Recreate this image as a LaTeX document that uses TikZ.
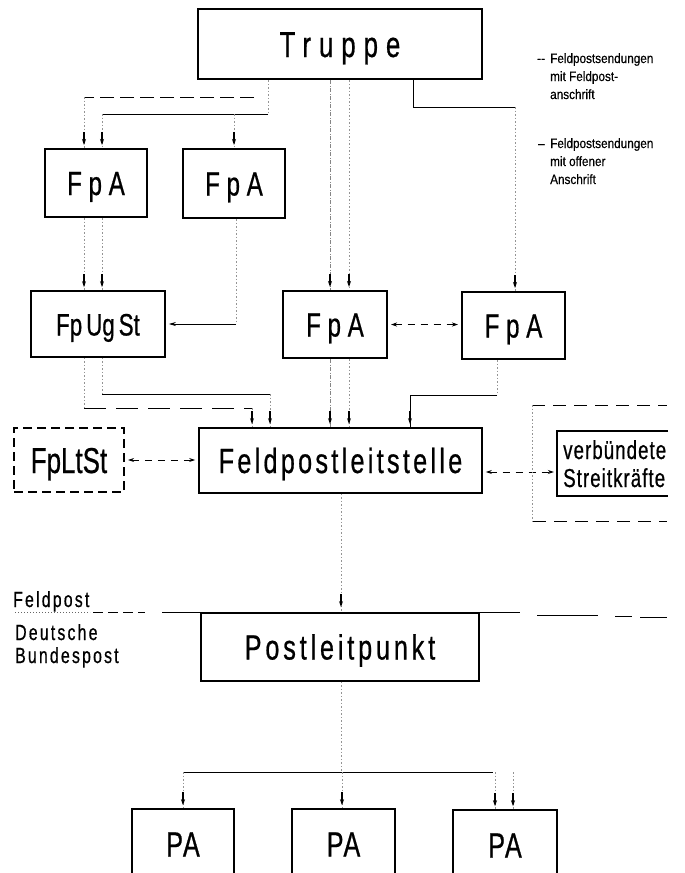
\documentclass[tikz,border=0pt]{standalone}
\usepackage{fontspec}
\setmainfont{Liberation Sans}
\newfontfamily\din{Liberation Sans}[FakeStretch=0.72,FakeBold=0.6]
\newfontfamily\legf{Liberation Sans}[FakeStretch=0.87,FakeBold=0.4]
\usetikzlibrary{arrows.meta,calc}
\newcommand\dinfont[2]{\din\fontsize{#1}{#1}\selectfont\addfontfeature{LetterSpace=#2}}
\newcommand\arrtick[2]{\draw[tick] ($(#1,0 |- #2)+(0,-16)$) -- ($(#1,0 |- #2)+(0,-3)$);}
\tikzset{
  box/.style={draw, rectangle, line width=2pt, inner sep=0pt, text depth=0pt},
  faint/.style={line width=0.45pt, black!42, dash pattern=on 1.5pt off 2pt},
  faintd/.style={line width=0.45pt, black!48, dash pattern=on 4pt off 1.5pt on 1pt off 1.5pt},
  sol/.style={line width=0.7pt},
  dshA/.style={line width=0.8pt, dash pattern=on 14pt off 6pt},
  dshB/.style={line width=0.8pt, dash pattern=on 22pt off 10pt},
  dshC/.style={line width=0.8pt, dash pattern=on 13pt off 8pt},
  tick/.style={line width=1.1pt, -{Stealth[length=6pt,width=4pt]}},
  harr/.style={line width=0.7pt, dash pattern=on 7pt off 6pt, {Stealth[length=6pt,width=4pt]}-{Stealth[length=6pt,width=4pt]}, shorten <=3pt, shorten >=3pt},
  lbl/.style={anchor=base west, inner sep=0pt, font=\dinfont{22}{10}},
  leg/.style={anchor=base west, inner sep=0pt, font=\legf\fontsize{13.5}{14}\selectfont},
  sepl/.style={line width=0.8pt}
}
\begin{document}
\begin{tikzpicture}[x=1pt,y=-1pt]
\useasboundingbox (0,0) rectangle (685,873);

% ---------- nodes ----------
\node[box, line width=2.6pt, minimum width=284pt, minimum height=70pt, text height=26pt, font=\dinfont{36}{22}] (truppe) at (340,44) {Truppe};
\node[box, minimum width=102pt, minimum height=68pt, text height=24pt, font=\dinfont{33.5}{20}] (fpa1) at (96,183) {FpA};
\node[box, minimum width=102pt, minimum height=69pt, text height=24pt, font=\dinfont{33.5}{20}] (fpa2) at (234,183.5) {FpA};
\node[box, line width=1.8pt, minimum width=134pt, minimum height=66pt, text height=23pt, font=\dinfont{31}{0}] (fpugst) at (98,324) {Fp\kern4pt Ug\kern4pt St};
\node[box, minimum width=104pt, minimum height=67pt, text height=24pt, font=\dinfont{33.5}{20}] (fpac) at (335,324.5) {FpA};
\node[box, minimum width=103pt, minimum height=67pt, text height=24pt, font=\dinfont{33.5}{20}] (fpar) at (513.5,325.5) {FpA};
\node[box, line width=2.2pt, dash pattern=on 9pt off 5pt, minimum width=110pt, minimum height=64pt, text height=26pt, font=\dinfont{36}{0}] (fplst) at (69,460) {FpLtSt};
\node[box, line width=1.8pt, minimum width=283pt, minimum height=65pt, text height=25pt, font=\dinfont{35}{9.4}] (fpls) at (340.5,460.5) {Feldpostleitstelle};
\node[inner sep=0pt, minimum width=111pt, minimum height=65pt] (verb) at (612.5,463.5) {};
\draw[line width=2.2pt] (verb.north east) -- (verb.north west) -- (verb.south west) -- (verb.south east);
\node[anchor=base west, inner sep=0pt, font=\dinfont{26}{4}] (vt1) at (563,459) {verbündete};
\node[anchor=base west, inner sep=0pt, font=\dinfont{26}{4}] (vt2) at (563,487) {Streitkräfte};
\node[box, line width=1.9pt, minimum width=278pt, minimum height=68pt, text height=25pt, font=\dinfont{35}{11}] (plp) at (340,647) {Postleitpunkt};
\node[box, line width=1.5pt, minimum width=102pt, minimum height=70pt, text height=25pt, font=\dinfont{35}{5}] (pa1) at (183,844) {PA};
\node[box, line width=1.5pt, minimum width=103pt, minimum height=70pt, text height=25pt, font=\dinfont{35}{5}] (pa2) at (343.5,844) {PA};
\node[box, line width=1.5pt, minimum width=104pt, minimum height=70pt, text height=25pt, font=\dinfont{35}{5}] (pa3) at (505,845) {PA};

% ---------- labels ----------
\node[lbl] (lfp) at (13,607) {Feldpost};
\node[lbl] (ldt) at (15,640) {Deutsche};
\node[lbl] (lbp) at (15,663) {Bundespost};

\node[leg] (g1d) at (537,63) {-{}-};
\node[leg] (g1a) at (550,63) {Feldpostsendungen};
\node[leg] (g1b) at (550,81) {mit Feldpost-};
\node[leg] (g1c) at (550,99) {anschrift};
\node[leg] (g2d) at (538,148) {–};
\node[leg] (g2a) at (550,148) {Feldpostsendungen};
\node[leg] (g2b) at (550,166) {mit offener};
\node[leg] (g2c) at (550,184) {Anschrift};

% ---------- Truppe -> FpA (left pair) ----------
\draw[faint] (268,0 |- truppe.south) -- (268,114);
\draw[dshA] (254,97) -- (84,97);
\draw[faint] (84,97) -- (84,0 |- fpa1.north);
\draw[sol] (268,114) -- (102,114);
\draw[faint] (102,114) -- (102,0 |- fpa1.north);
\draw[faint] (234,114) -- (234,0 |- fpa2.north);
\arrtick{84}{fpa1.north}
\arrtick{102}{fpa1.north}
\arrtick{234}{fpa2.north}

% ---------- Truppe -> FpA (centre) ----------
\draw[faintd] (330,0 |- truppe.south) -- (330,0 |- fpac.north);
\draw[faint] (349,0 |- truppe.south) -- (349,0 |- fpac.north);
\arrtick{330}{fpac.north}
\arrtick{349}{fpac.north}

% ---------- Truppe -> FpA (right) ----------
\draw[sol] (413,0 |- truppe.south) -- (413,107) -- (515,107);
\draw[faint] (515,107) -- (515,0 |- fpar.north);
\arrtick{515}{fpar.north}

% ---------- FpA -> Fp Ug St ----------
\draw[faint] (84,0 |- fpa1.south) -- (84,0 |- fpugst.north);
\draw[faint] (102,0 |- fpa1.south) -- (102,0 |- fpugst.north);
\arrtick{84}{fpugst.north}
\arrtick{102}{fpugst.north}
\draw[faint] (236,0 |- fpa2.south) -- (236,0 |- fpugst.east);
\draw[sol, -{Stealth[length=7pt,width=4pt]}] (236,0 |- fpugst.east) -- ([xshift=3pt]fpugst.east);

% ---------- FpA <-> FpA ----------
\draw[harr] (fpac.east) -- (fpac.east -| fpar.west);

% ---------- to Feldpostleitstelle ----------
\draw[faint] (84,0 |- fpugst.south) -- (84,408);
\draw[dshB] (84,408) -- (252,408);
\draw[faint] (252,408) -- (252,0 |- fpls.north);
\arrtick{252}{fpls.north}
\draw[faint] (102,0 |- fpugst.south) -- (102,394);
\draw[sol] (102,394) -- (270,394);
\draw[faint] (270,394) -- (270,0 |- fpls.north);
\arrtick{270}{fpls.north}
\draw[faintd] (330,0 |- fpac.south) -- (330,0 |- fpls.north);
\draw[faint] (349,0 |- fpac.south) -- (349,0 |- fpls.north);
\arrtick{330}{fpls.north}
\arrtick{349}{fpls.north}
\draw[faint] (497,0 |- fpar.south) -- (497,395);
\draw[sol] (497,395) -- (410,395) -- (410,0 |- fpls.north);
\arrtick{410}{fpls.north}

% ---------- side links ----------
\draw[harr] (fplst.east) -- (fplst.east -| fpls.west);
\draw[harr] (fpls.east |- 0,472) -- (verb.west |- 0,472);
\draw[dshC] (532,405) -- (667,405);
\draw[dshC] (533,521) -- (667,521);
\draw[faint] (532,405) -- (532,521);

% ---------- Feldpostleitstelle -> Postleitpunkt ----------
\draw[faint] (341,0 |- fpls.south) -- (341,0 |- plp.north);
\draw[tick] ($(341,0 |- plp.north)+(0,-18)$) -- ($(341,0 |- plp.north)+(0,-5)$);

% ---------- separator Feldpost / Deutsche Bundespost ----------
\draw[line width=0.6pt, black!60, dash pattern=on 1pt off 2pt] (15,612) -- (90,612);
\draw[sepl, dash pattern=on 10pt off 5pt] (93,612) -- (145,612);
\draw[sepl] (162,0 |- plp.north west) -- (plp.north west);
\draw[sepl] (plp.north east) -- (520,0 |- plp.north east);
\draw[sepl] (537,615) -- (598,615);
\draw[sepl] (615,616) -- (632,616);
\draw[sepl] (640,617) -- (667,617);

% ---------- Postleitpunkt -> PA ----------
\draw[faint] (341,0 |- plp.south) -- (341,772);
\draw[sol] (184,772) -- (493,772);
\draw[faint] (183,772) -- (183,0 |- pa1.north);
\draw[faint] (342,772) -- (342,0 |- pa2.north);
\draw[faint] (495,772) -- (495,0 |- pa3.north);
\draw[faint] (513,772) -- (513,0 |- pa3.north);
\arrtick{183}{pa1.north}
\arrtick{342}{pa2.north}
\arrtick{495}{pa3.north}
\arrtick{513}{pa3.north}
\end{tikzpicture}
\end{document}
